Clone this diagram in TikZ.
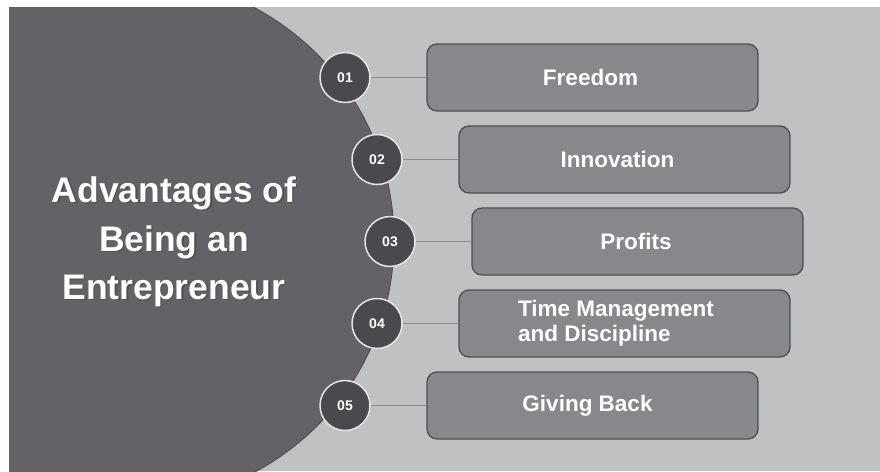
\documentclass[tikz,border=0pt]{standalone}
\usepackage{fontspec}
\setmainfont{Liberation Sans}
\begin{document}
\definecolor{pagebg}{HTML}{C0C1C3}
\definecolor{hubfill}{HTML}{646267}
\definecolor{hubedge}{HTML}{4E4D52}
\definecolor{dotfill}{HTML}{4B494E}
\definecolor{dotedge}{HTML}{E6E6E8}
\definecolor{cardfill}{HTML}{88878C}
\definecolor{cardedge}{HTML}{4F4E53}
\definecolor{linkline}{HTML}{8C8C8F}
\begin{tikzpicture}[x=1pt,y=-1pt,
  numdot/.style={circle,minimum size=50pt,inner sep=0pt,fill=dotfill,
    draw=dotedge,line width=1.5pt,text=white,
    font=\fontsize{14}{16}\selectfont\bfseries},
  card/.style={rectangle,rounded corners=10pt,minimum width=331pt,
    minimum height=67pt,inner sep=0pt,fill=cardfill,draw=cardedge,
    line width=1.3pt,text=white,
    font=\fontsize{22.5}{25}\selectfont\bfseries},
  link/.style={draw=linkline,line width=1.2pt},
  title/.style={align=center,inner sep=0pt,
    font=\fontsize{35.5}{48.5}\selectfont\bfseries}]
% canvas
\useasboundingbox (0,0) rectangle (880,471);
\fill[white] (0,0) rectangle (880,471);
\fill[pagebg] (9,7) rectangle (880,471);
% large half disc on the left
\begin{scope}
  \clip (9,7) rectangle (880,471);
  \fill[hubfill] (131,240) circle (263pt);
  \draw[hubedge,line width=0.9pt] (131,240) circle (263pt);
\end{scope}
% title with a soft drop shadow
\node[title,text=black,opacity=0.2] at (175.3,243.3)
  {Advantages of\\Being an\\Entrepreneur};
\node[title,text=white] (ttl) at (174,242)
  {Advantages of\\Being an\\Entrepreneur};
% cards
\node[card] (b1) at (592.5,77.5) {\hspace*{-4pt}Freedom};
\node[card] (b2) at (624.5,159.5) {\hspace*{-14pt}Innovation};
\node[card] (b3) at (637.5,241.5) {\hspace*{-3pt}Profits};
\node[card,align=left]
  (b4) at (624.5,323.5) {\hspace*{-17pt}Time Management\\\hspace*{-17pt}and Discipline};
\node[card] (b5) at (592.5,405.5) {\hspace*{-10pt}Giving Back};
% numbered dots
\node[numdot] (c1) at (345,77.5) {01};
\node[numdot] (c2) at (377,159.5) {02};
\node[numdot] (c3) at (390,241.5) {03};
\node[numdot] (c4) at (377,323.5) {04};
\node[numdot] (c5) at (345,405.5) {05};
% links
\draw[link] (c1.east) -- (b1.west);
\draw[link] (c2.east) -- (b2.west);
\draw[link] (c3.east) -- (b3.west);
\draw[link] (c4.east) -- (b4.west);
\draw[link] (c5.east) -- (b5.west);
\end{tikzpicture}
\end{document}
